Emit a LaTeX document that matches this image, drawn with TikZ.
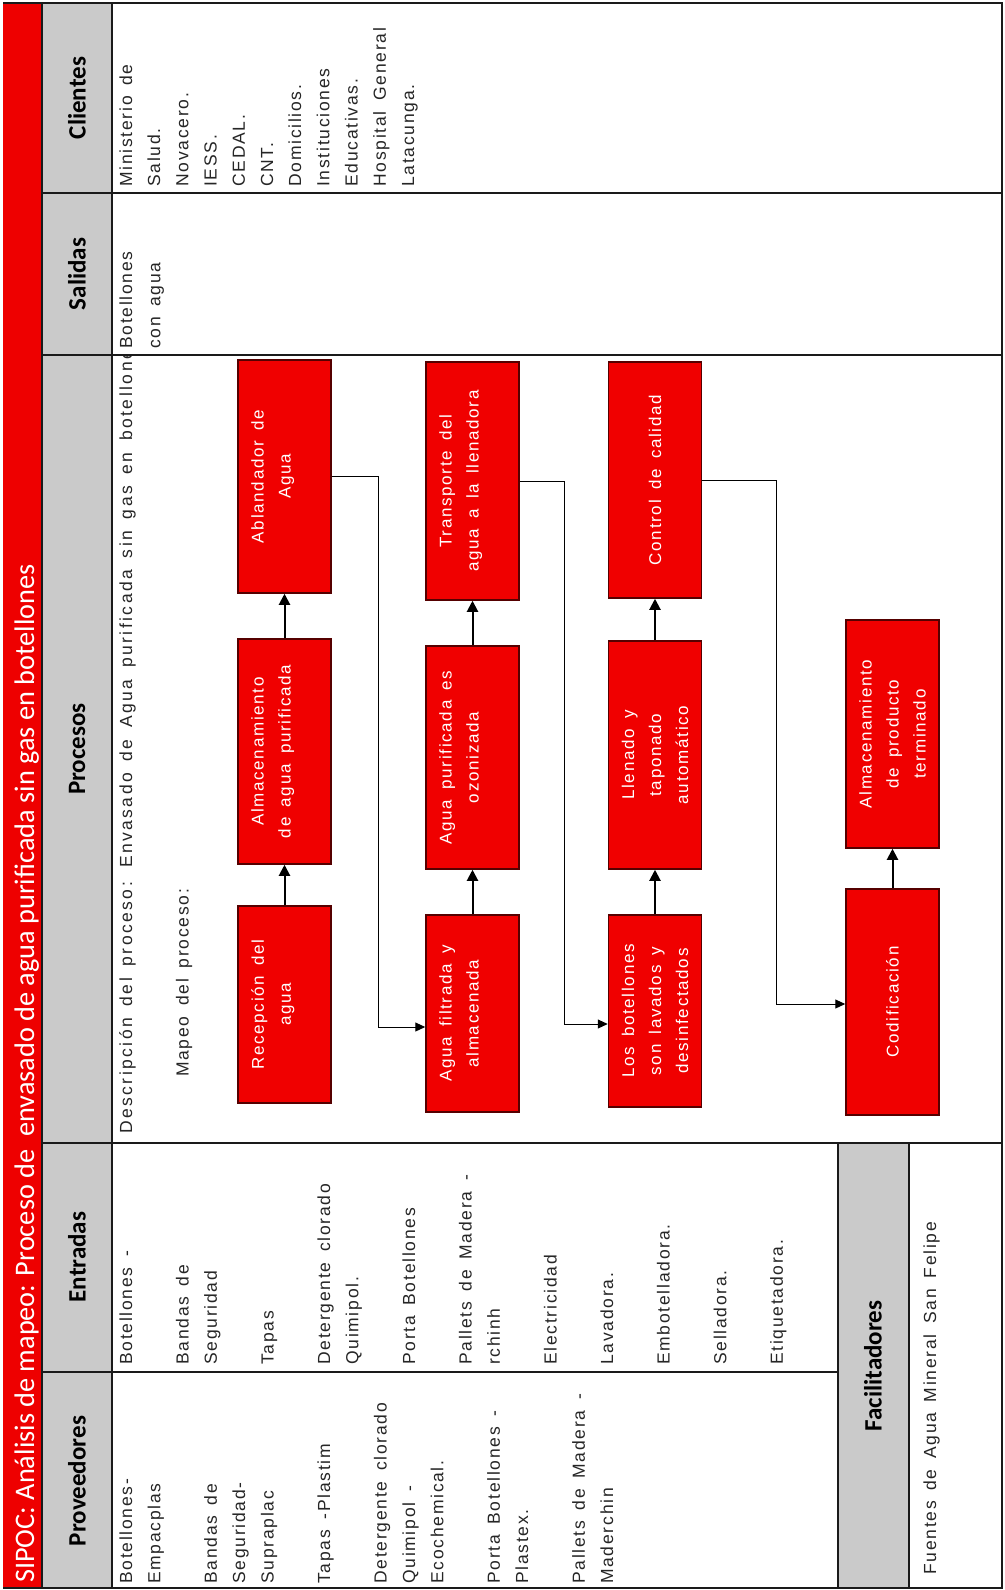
\documentclass[tikz,border=0pt]{standalone}
\usepackage{fontspec}
\usetikzlibrary{arrows.meta,calc}
\newfontfamily\bodyfont{Liberation Sans}[LetterSpace=10,WordSpace=1.6]
\newfontfamily\headfont{Carlito}
\definecolor{titlered}{HTML}{EE0000}
\definecolor{headgray}{HTML}{CACACA}
\definecolor{boxred}{HTML}{F00000}
\definecolor{boxedge}{HTML}{550000}
\definecolor{rulecol}{HTML}{1A1A1A}
\definecolor{inkcol}{HTML}{262626}

\begin{document}
\begin{tikzpicture}[x=1pt,y=-1pt,
  celltext/.style={rotate=90, inner sep=0pt, anchor=base west, text=inkcol,
    font=\bodyfont\fontsize{17.5}{28}\selectfont},
  headtext/.style={rotate=90, inner sep=0pt, text=black,
    font=\headfont\bfseries\fontsize{25}{30}\selectfont},
  procbox/.style={rotate=90, draw=boxedge, fill=boxred, line width=1.5pt,
    minimum height=93pt, inner sep=0pt, text=white, align=center,
    font=\bodyfont\fontsize{17}{27}\selectfont},
  flow/.style={draw=black, line width=1pt, -{Triangle[length=10pt,width=9pt]}},
  rise/.style={draw=black, line width=2pt, -{Triangle[length=11pt,width=11pt]}},
  gridline/.style={draw=rulecol, line width=1.5pt}]

\useasboundingbox (0,0) rectangle (1004,1590);
\fill[white] (0,0) rectangle (1004,1590);

% bands: title, header row, facilitators header
\fill[titlered] (3,3) rectangle (42,1588);
\fill[headgray] (42,3) rectangle (112,1588);
\fill[headgray] (838,1143) rectangle (909,1588);

% table rules
\draw[gridline] (3,3) -- (1002,3) -- (1002,1588) -- (3,1588);
\draw[gridline] (42,3) -- (42,1588);
\draw[gridline] (112,3) -- (112,1588);
\draw[gridline] (42,193) -- (1002,193);
\draw[gridline] (42,355) -- (1002,355);
\draw[gridline] (42,1143) -- (1002,1143);
\draw[gridline] (42,1372) -- (838,1372);
\draw[gridline] (838,1143) -- (838,1588);
\draw[gridline] (909,1143) -- (909,1588);

% title
\node[rotate=90, inner sep=0pt, anchor=base west, text=white,
  font=\headfont\fontsize{28.3}{32}\selectfont] (title) at (34,1583)
  {SIPOC: Análisis de mapeo: Proceso de\ \ envasado de agua purificada sin gas en botellones};

% column headers
\node[headtext] (hprov) at (77,1481) {Proveedores};
\node[headtext] (hent) at (77,1257) {Entradas};
\node[headtext] (hproc) at (77,749) {Procesos};
\node[headtext] (hsal) at (77,274) {Salidas};
\node[headtext] (hcli) at (77,98) {Clientes};
\node[headtext] (hfac) at (873,1366) {Facilitadores};

% suppliers
\foreach \lk/\lt [count=\i] in {0/Botellones-, 1/Empacplas, 3/Bandas de,
    4/Seguridad-, 5/Supraplac, 7/Tapas -Plastim, 9/Detergente clorado,
    10/Quimipol -, 11/Ecochemical., 13/Porta Botellones -, 14/Plastex.,
    16/Pallets de Madera -, 17/Maderchin}
  \node[celltext] (prov\i) at ({132+28.3*\lk},1584) {\lt};

% inputs
\foreach \lk/\lt [count=\i] in {0/Botellones -, 2/Bandas de, 3/Seguridad,
    5/Tapas, 7/Detergente clorado, 8/Quimipol., 10/Porta Botellones,
    12/Pallets de Madera -, 13/rchinh, 15/Electricidad, 17/Lavadora.,
    19/Embotelladora., 21/Selladora., 23/Etiquetadora.}
  \node[celltext] (ent\i) at ({132+28.3*\lk},1365) {\lt};

% outputs
\node[celltext] (sal1) at (132,349) {Botellones};
\node[celltext] (sal2) at (160.3,349) {con agua};

% customers
\foreach \lk/\lt [count=\i] in {0/Ministerio de, 1/Salud., 2/Novacero.,
    3/IESS., 4/CEDAL., 5/CNT., 6/Domicilios., 7/Instituciones,
    8/Educativas., 9/Hospital General, 10/Latacunga.}
  \node[celltext] (cli\i) at ({132+28.2*\lk},187) {\lt};

% process description, cut at the cell border
\begin{scope}
  \clip (112,356) rectangle (1002,1143);
  \node[celltext, font=\bodyfont\addfontfeature{LetterSpace=14}\fontsize{17.5}{28}\selectfont] (desc) at (132,1134)
    {Descripción del proceso: Envasado de Agua purificada sin gas en botellones};
\end{scope}
\node[celltext] (mapeo) at (188.6,1077) {Mapeo del proceso:};

% facilitators
\node[celltext] (fac1) at (936,1575) {Fuentes de Agua Mineral San Felipe};

% process map
\node[procbox, minimum width=197pt] (rec) at (284.5,1004.5) {Recepción del\\agua\\\mbox{}};
\node[procbox, minimum width=225pt] (alm) at (284.5,751.5) {Almacenamiento\\de agua purificada\\\mbox{}};
\node[procbox, minimum width=233pt] (abl) at (284.5,476.5) {Ablandador de\\Agua\\\mbox{}};

\node[procbox, minimum width=197pt] (afa) at (472.5,1013.5) {Agua filtrada y\\almacenada\\\mbox{}};
\node[procbox, minimum width=223pt] (apo) at (472.5,757.5) {Agua purificada es\\ozonizada\\\mbox{}};
\node[procbox, minimum width=238pt] (tra) at (472.5,481) {Transporte del\\agua a la llenadora\\\mbox{}};

\node[procbox, minimum width=192pt] (lbo) at (655,1011) {Los botellones\\son lavados y\\desinfectados};
\node[procbox, minimum width=228pt] (lle) at (655,755) {Llenado y\\taponado\\automático};
\node[procbox, minimum width=236pt] (ctl) at (655,480) {Control de calidad};

\node[procbox, minimum width=226pt] (cod) at (892.5,1002) {Codificación};
\node[procbox, minimum width=228pt] (apt) at (892.5,734) {Almacenamiento\\de producto\\terminado};

% flow inside each column of steps
\draw[rise] (rec.east) -- (alm.west);
\draw[rise] (alm.east) -- (abl.west);
\draw[rise] (afa.east) -- (apo.west);
\draw[rise] (apo.east) -- (tra.west);
\draw[rise] (lbo.east) -- (lle.west);
\draw[rise] (lle.east) -- (ctl.west);
\draw[rise] (cod.east) -- (apt.west);

% hand-over between columns
\draw[flow] (abl.south) -- ++(47,0) |- ([yshift=-13.5pt]afa.north);
\draw[flow] (tra.south) -- ++(45,0) |- ([yshift=-13pt]lbo.north);
\draw[flow] (ctl.south) -- ++(74,0) |- ([yshift=-2pt]cod.north);

\end{tikzpicture}
\end{document}
